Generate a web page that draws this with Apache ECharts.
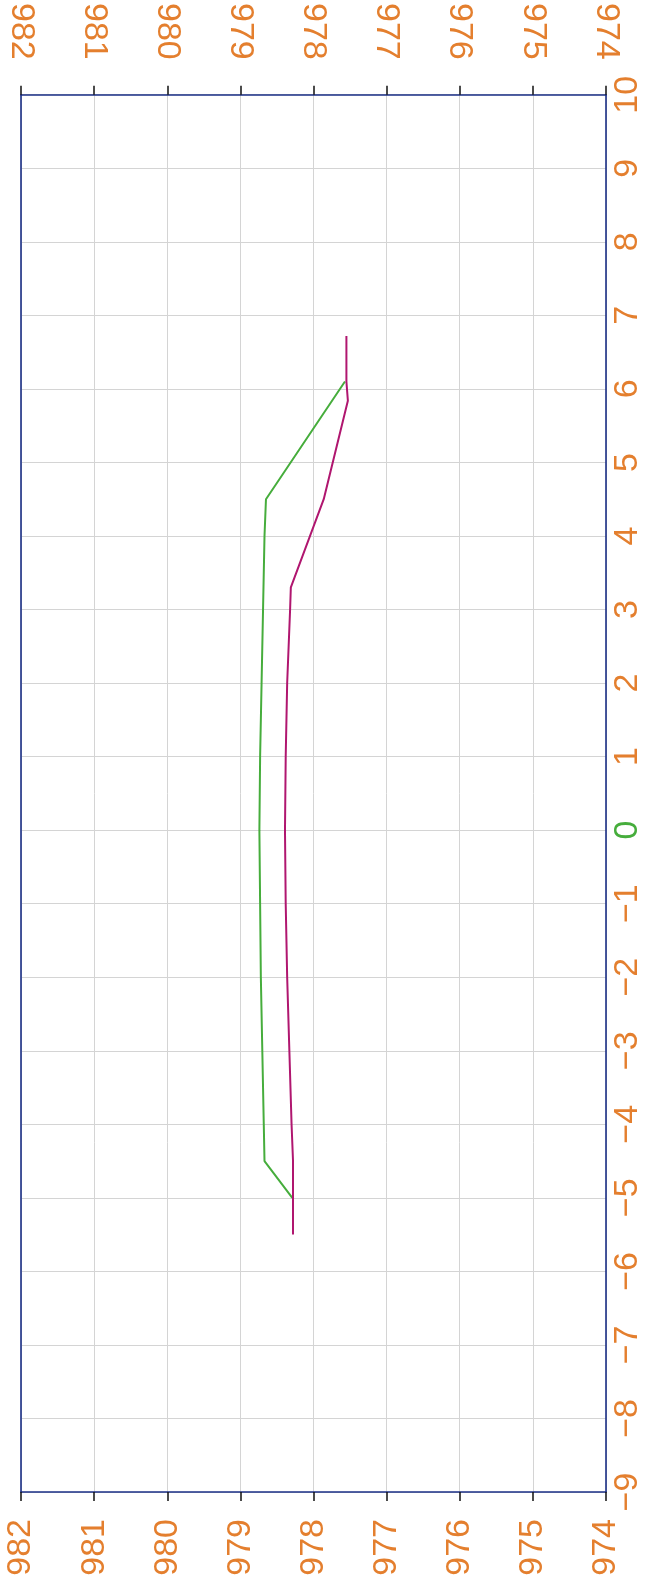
<!DOCTYPE html>
<html>
<head>
<meta charset="utf-8">
<script src="https://cdn.jsdelivr.net/npm/echarts@6/dist/echarts.min.js"></script>
<style>
html,body{margin:0;padding:0;background:#fff;}
#c{width:645px;height:1583px;}
</style>
</head>
<body>
<div id="c"></div>
<script>
// horizontal value axis (982 at left, 974 at right)
const xTickLabels = ['974','975','976','977','978','979','980','981','982'];
// vertical value axis (-9 at bottom, 10 at top)
const yTickLabels = ['-9','-8','-7','-6','-5','-4','-3','-2','-1','0','1','2','3','4','5','6','7','8','9','10'];

// green series: [horizontal value, vertical value]
const greenX = [978.29, 978.67, 978.68, 978.70, 978.72, 978.73, 978.74, 978.73, 978.71, 978.69, 978.67, 978.65, 977.57];
const greenY = [-5.0, -4.5, -4, -3, -2, -1, 0, 1, 2, 3, 4, 4.5, 6.1];

// magenta series
const magentaX = [978.28, 978.28, 978.30, 978.33, 978.36, 978.38, 978.39, 978.38, 978.36, 978.32, 978.31, 977.86, 977.53, 977.55, 977.55];
const magentaY = [-5.5, -4.5, -4, -3, -2, -1, 0, 1, 2, 3, 3.3, 4.5, 5.84, 6.1, 6.72];

const ORANGE = '#e47f2e';
const GREEN = '#46ad3c';
const MAGENTA = '#b0166f';
const FRAME = '#1b2f86';
const FONT = 'Liberation Sans';
const FS = 34;

const chart = echarts.init(document.getElementById('c'), null, {renderer:'canvas'});

function fmtY(v){
  const i = Math.round(v) + 9;
  const t = (yTickLabels[i] || String(v)).replace('-', '\u2212');
  return v === 0 ? '{g|' + t + '}' : t;
}
function fmtX(v){
  const i = Math.round(v) - 974;
  return xTickLabels[i] || String(v);
}

function xAxisDef(pos, margin, split){
  return {
    type:'value', min:974, max:982, interval:1, inverse:true, position:pos,
    axisLine:{show:true, onZero:false, lineStyle:{color:FRAME, width:1.6}},
    axisTick:{show:true, inside:false, length:9, lineStyle:{color:'#111', width:1.5}},
    axisLabel:{show:true, rotate:90, margin:margin, color:ORANGE, fontSize:FS, fontFamily:FONT, formatter:fmtX},
    splitLine:{show:split, lineStyle:{color:'#d4d4d4', width:1}}
  };
}

const option = {
  backgroundColor:'#ffffff',
  animation:false,
  grid:{left:21, right:35, top:94, bottom:91, containLabel:false},
  xAxis:[ xAxisDef('top', 35, true), xAxisDef('bottom', 27, false) ],
  yAxis:[
    {
      type:'value', min:-9, max:10, interval:1, position:'right',
      axisLine:{show:true, onZero:false, lineStyle:{color:FRAME, width:1.6}},
      axisTick:{show:false},
      axisLabel:{show:true, rotate:90, margin:5, color:ORANGE, fontSize:FS, fontFamily:FONT,
        formatter:fmtY, rich:{g:{color:GREEN, fontSize:FS, fontFamily:FONT}}},
      splitLine:{show:true, lineStyle:{color:'#d4d4d4', width:1}}
    },
    {
      type:'value', min:-9, max:10, interval:1, position:'left',
      axisLine:{show:true, onZero:false, lineStyle:{color:FRAME, width:1.6}},
      axisTick:{show:false}, axisLabel:{show:false}, splitLine:{show:false}
    }
  ],
  series:[
    {
      type:'line', xAxisIndex:0, yAxisIndex:0, showSymbol:false, smooth:false,
      data: greenX.map((x,i)=>[x, greenY[i]]),
      lineStyle:{color:GREEN, width:2}
    },
    {
      type:'line', xAxisIndex:0, yAxisIndex:0, showSymbol:false, smooth:false,
      data: magentaX.map((x,i)=>[x, magentaY[i]]),
      lineStyle:{color:MAGENTA, width:2}
    }
  ]
};
chart.setOption(option);
</script>
</body>
</html>
